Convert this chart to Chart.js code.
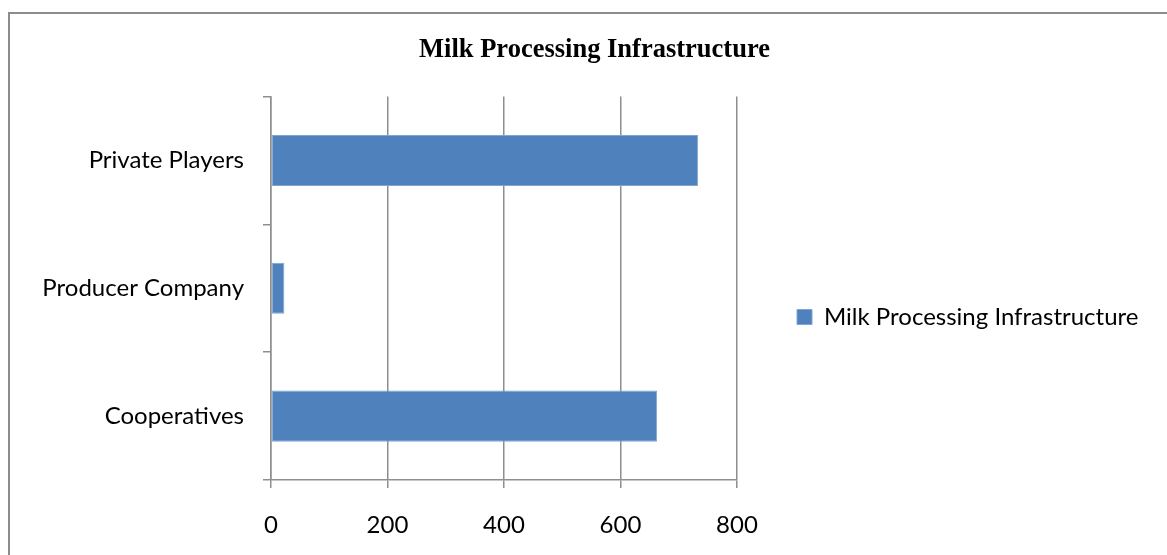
<!DOCTYPE html>
<html>
<head>
<meta charset="utf-8">
<script src="https://cdn.jsdelivr.net/npm/chart.js@4"></script>
<style>
  html, body { margin: 0; padding: 0; background: #fff; }
  #wrap { position: relative; width: 1167px; height: 555px; overflow: hidden; }
  #frame { position: absolute; left: 8px; top: 12px; width: 1300px; height: 700px;
           border-left: 2px solid #8c8c8c; border-top: 2px solid #8c8c8c; }
  #c { position: absolute; left: 0; top: 0; }
</style>
</head>
<body>
<div id="wrap">
  <div id="frame"></div>
  <canvas id="c" width="1167" height="555"></canvas>
</div>
<script>
// Installed capacity by sector (listed bottom to top, as the axis reads upward)
const categories = ['Cooperatives', 'Producer Company', 'Private Players'];
const capacity = [663, 23, 733];
const xTickValues = [0, 200, 400, 600, 800];
const seriesLabel = 'Milk Processing Infrastructure';
const chartTitle = 'Milk Processing Infrastructure';

const W = 1167, H = 555;
const LABEL_FONT = 'Lato';
const LABEL_SIZE = 24;
const TITLE_SIZE = 26.5;
const BOX = 15;
const LEGEND_PAD = 60;
const PLOT_LEFT = 271, PLOT_RIGHT = 737, PLOT_TOP = 96.6, PLOT_BOTTOM = 480;
const TITLE_CENTER_X = 594.5, TITLE_CENTER_Y = 50;
const LEGEND_CENTER_Y = 317;
const GRID = '#8e8e8e';
const GRID_W = 1.5;
const TICK_LEN = 8;

// Work out side paddings so the plot edges and the title centre land where wanted
const meas = document.createElement('canvas').getContext('2d');
meas.font = LABEL_SIZE + 'px ' + LABEL_FONT;
const itemW = BOX + LABEL_SIZE / 2 + meas.measureText(seriesLabel).width;
const legendW = LEGEND_PAD + itemW + 10;
const padRight = W - PLOT_RIGHT - legendW;
const padLeft = 2 * TITLE_CENTER_X - W + padRight;

const titleLine = TITLE_SIZE * 1.2;
const titlePadTop = TITLE_CENTER_Y - titleLine / 2;
const titlePadBottom = PLOT_TOP - titlePadTop - titleLine;

// Move the legend block to its vertical position after layout
const legendNudge = {
  id: 'legendNudge',
  afterLayout(chart) {
    const lg = chart.legend;
    const shift = LEGEND_CENTER_Y - (lg.top + lg.bottom) / 2;
    lg.top += shift;
    lg.bottom += shift;
  }
};

new Chart(document.getElementById('c'), {
  type: 'bar',
  data: {
    labels: categories,
    datasets: [{
      label: seriesLabel,
      data: capacity,
      backgroundColor: '#4F81BD',
      borderColor: '#7EA5D4',
      borderWidth: 1,
      borderSkipped: false,
      barPercentage: 0.4,
      categoryPercentage: 1.0
    }]
  },
  options: {
    indexAxis: 'y',
    responsive: false,
    animation: false,
    devicePixelRatio: 1,
    layout: { padding: { left: padLeft, right: padRight, top: 0, bottom: 0 } },
    scales: {
      x: {
        type: 'linear',
        min: 0,
        max: 800,
        afterBuildTicks(scale) { scale.ticks = xTickValues.map(v => ({ value: v })); },
        afterFit(scale) { scale.height = H - PLOT_BOTTOM; },
        grid: { color: GRID, lineWidth: GRID_W, tickLength: TICK_LEN, drawTicks: true },
        border: { display: true, color: GRID, width: GRID_W },
        ticks: {
          color: '#000',
          padding: 23,
          font: { family: LABEL_FONT, size: LABEL_SIZE }
        }
      },
      y: {
        reverse: true,
        offset: true,
        afterFit(scale) { scale.width = PLOT_LEFT - padLeft; },
        grid: { offset: true, drawOnChartArea: false, color: GRID, lineWidth: GRID_W, tickLength: TICK_LEN },
        border: { display: true, color: GRID, width: GRID_W },
        ticks: {
          color: '#000',
          padding: 19,
          font: { family: LABEL_FONT, size: LABEL_SIZE }
        }
      }
    },
    plugins: {
      title: {
        display: true,
        text: chartTitle,
        color: '#000',
        font: { family: 'Liberation Serif', size: TITLE_SIZE, weight: 'bold', lineHeight: 1.2 },
        padding: { top: titlePadTop, bottom: titlePadBottom }
      },
      legend: {
        display: true,
        position: 'right',
        maxWidth: 1000,
        labels: {
          color: '#000',
          boxWidth: BOX,
          boxHeight: BOX,
          padding: LEGEND_PAD,
          font: { family: LABEL_FONT, size: LABEL_SIZE }
        }
      },
      tooltip: { enabled: false }
    }
  },
  plugins: [legendNudge]
});
</script>
</body>
</html>
